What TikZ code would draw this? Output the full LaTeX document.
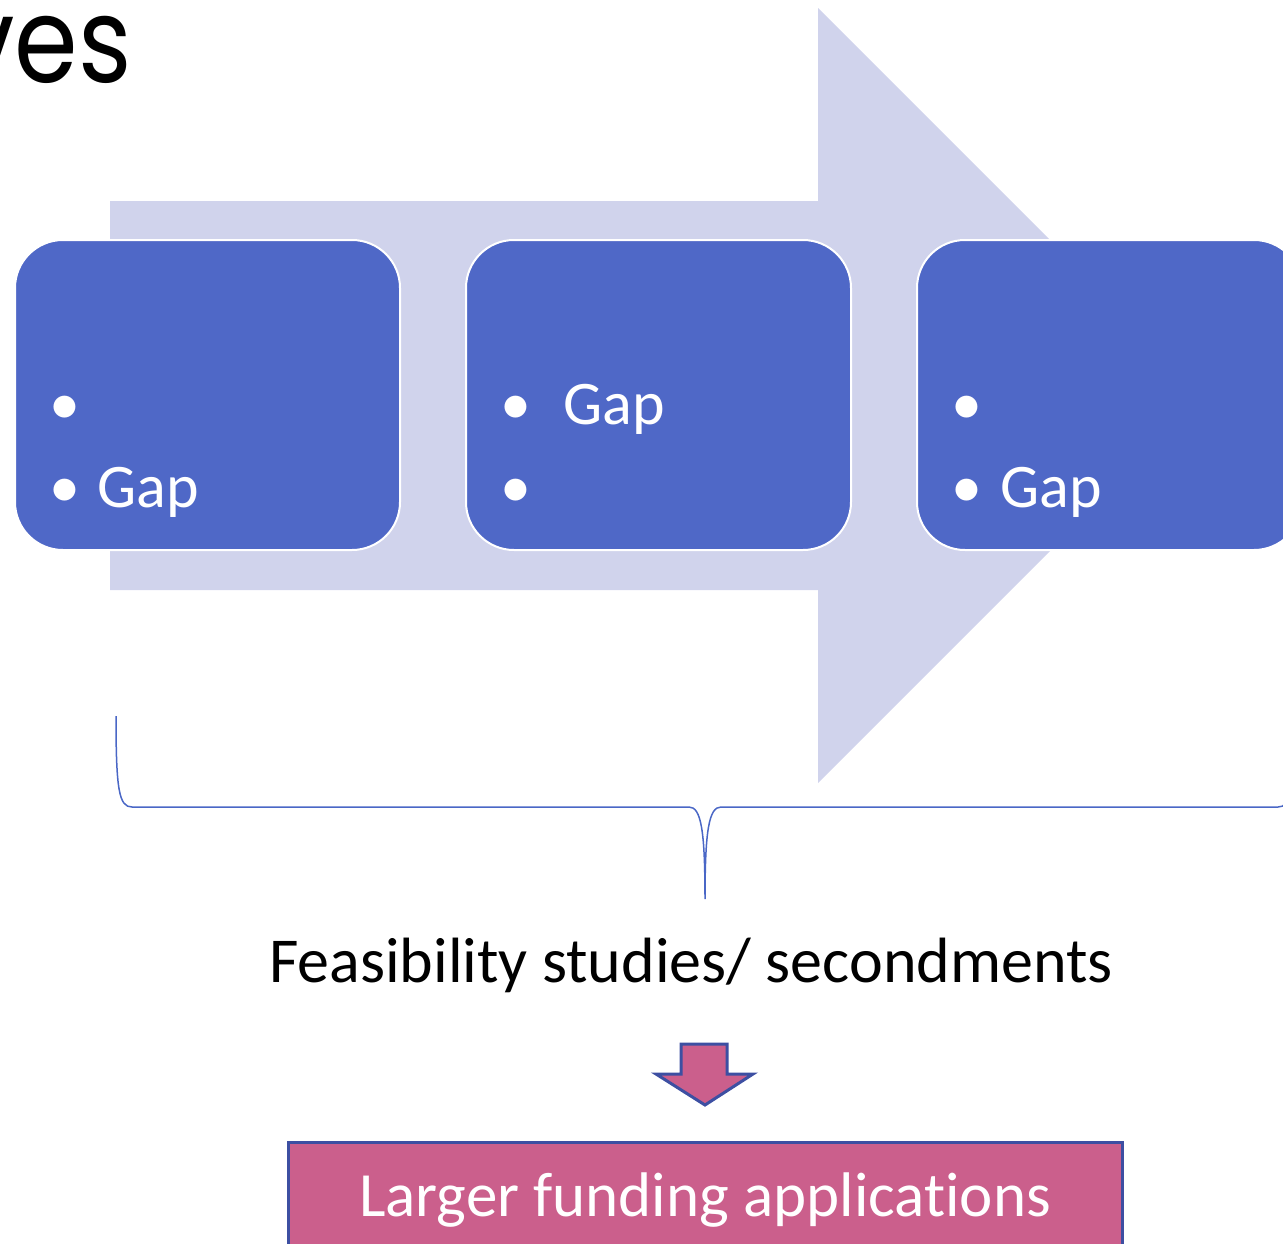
\documentclass[tikz,border=0pt]{standalone}
\usepackage{fontspec}
\setmainfont{Carlito}
\newfontfamily\titlefont{Poppins}
\begin{document}
\begin{tikzpicture}[x=1pt,y=-1pt,
  band/.style={fill=bandfill,draw=none},
  gapbox/.style={fill=boxfill,draw=white,line width=2pt,rounded corners=48pt},
  boxtext/.style={text=white,font=\fontsize{62}{70}\selectfont,inner sep=0pt,anchor=base west},
  bracket/.style={draw=bracecol,line width=1.5pt},
  downarrow/.style={fill=pinkfill,draw=edgeblue,line width=3pt,line join=miter},
  resultbox/.style={fill=pinkfill,draw=edgeblue,line width=3pt}]
\definecolor{bandfill}{HTML}{D0D3EC}
\definecolor{boxfill}{HTML}{4F68C7}
\definecolor{bracecol}{HTML}{4A67C6}
\definecolor{pinkfill}{HTML}{CB5F8C}
\definecolor{edgeblue}{HTML}{3D4FA2}
\useasboundingbox (0,0) rectangle (1283,1243);
\clip (0,0) rectangle (1283,1243);

% title fragment, running off the left edge
\node[font=\titlefont\fontsize{119}{130}\selectfont,inner sep=0pt,anchor=base east,xscale=0.86] (title) at (132,82) {ves};

% wide process arrow behind the boxes
\path[band] (110,201) -- (818,201) -- (818,8) -- (1205.5,395.5) -- (818,783) -- (818,590) -- (110,590) -- cycle;

% three gap boxes
\draw[gapbox] (15,240) rectangle (400,550);
\draw[gapbox] (466,240) rectangle (851,550);
\draw[gapbox] (917,240) rectangle (1302,550);
\coordinate (b1) at (15,240);
\coordinate (b2) at (466,240);
\coordinate (b3) at (917,240);

% bullets and labels
\node[boxtext] (b1a) at (49,424) {•};
\node[boxtext] (b1b) at (49,507) {•};
\node[boxtext] (g1) at (97,507) {Gap};
\node[boxtext] (b2a) at (500,424) {•};
\node[boxtext] (b2b) at (500,507) {•};
\node[boxtext] (g2) at (563,424) {Gap};
\node[boxtext] (b3a) at (951,424) {•};
\node[boxtext] (b3b) at (951,507) {•};
\node[boxtext] (g3) at (1000,507) {Gap};

% curly bracket under the arrow
\coordinate (bl) at (116,716);
\coordinate (bt) at (705,899);
\coordinate (br) at (1294,716);
\draw[bracket] (bl) .. controls (116,790) and (119,807) .. (132,807)
  -- (689,807) .. controls (701,807) and (705,830) .. (bt)
  .. controls (705,830) and (709,807) .. (721,807)
  -- (1278,807) .. controls (1291,807) and (1294,790) .. (br);

% caption
\node[font=\fontsize{64}{72}\selectfont,inner sep=0pt,anchor=base] (feas) at (691,982) {Feasibility studies/ secondments};

% down arrow
\draw[downarrow] (681,1044) -- (727,1044) -- (727,1074) -- (753,1074) -- (705,1105) -- (656,1074) -- (681,1074) -- cycle;
\coordinate (arr) at (705,1044);

% result box
\draw[resultbox] (288,1142) rectangle (1122,1270);
\node[text=white,font=\fontsize{63}{70}\selectfont\addfontfeatures{Ligatures=NoCommon},inner sep=0pt,anchor=base] (res) at (705,1216) {Larger funding applications};
\end{tikzpicture}
\end{document}
